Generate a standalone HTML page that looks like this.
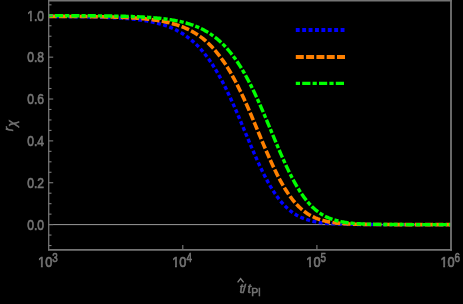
<!DOCTYPE html>
<html><head><meta charset="utf-8"><title>chart</title>
<style>
html,body{margin:0;padding:0;background:#000;}
body{width:463px;height:304px;overflow:hidden;position:relative;font-family:"Liberation Sans",sans-serif;}
svg text{font-family:"Liberation Sans",sans-serif;}
</style></head><body>
<svg width="463" height="304" viewBox="0 0 463 304" style="position:absolute;left:0;top:0;will-change:transform">
<rect x="0" y="0" width="463" height="304" fill="#000"/>
<line x1="48.7" y1="224.6" x2="451.0" y2="224.6" stroke="#9a9a9a" stroke-width="1"/>
<path d="M48.70,16.55 L49.71,16.56 L50.72,16.56 L51.72,16.56 L52.73,16.57 L53.74,16.57 L54.75,16.58 L55.76,16.58 L56.77,16.59 L57.77,16.60 L58.78,16.60 L59.79,16.61 L60.80,16.61 L61.81,16.62 L62.82,16.63 L63.82,16.63 L64.83,16.64 L65.84,16.65 L66.85,16.66 L67.86,16.66 L68.87,16.67 L69.87,16.68 L70.88,16.69 L71.89,16.70 L72.90,16.71 L73.91,16.72 L74.92,16.73 L75.92,16.74 L76.93,16.76 L77.94,16.77 L78.95,16.78 L79.96,16.79 L80.96,16.81 L81.97,16.82 L82.98,16.84 L83.99,16.85 L85.00,16.87 L86.01,16.88 L87.01,16.90 L88.02,16.92 L89.03,16.94 L90.04,16.96 L91.05,16.98 L92.06,17.00 L93.06,17.02 L94.07,17.04 L95.08,17.07 L96.09,17.09 L97.10,17.12 L98.11,17.14 L99.11,17.17 L100.12,17.20 L101.13,17.23 L102.14,17.26 L103.15,17.29 L104.15,17.33 L105.16,17.36 L106.17,17.40 L107.18,17.43 L108.19,17.47 L109.20,17.51 L110.20,17.56 L111.21,17.60 L112.22,17.65 L113.23,17.69 L114.24,17.74 L115.25,17.79 L116.25,17.85 L117.26,17.90 L118.27,17.96 L119.28,18.02 L120.29,18.08 L121.30,18.15 L122.30,18.21 L123.31,18.28 L124.32,18.36 L125.33,18.43 L126.34,18.51 L127.35,18.59 L128.35,18.68 L129.36,18.76 L130.37,18.85 L131.38,18.95 L132.39,19.05 L133.39,19.15 L134.40,19.26 L135.41,19.37 L136.42,19.48 L137.43,19.60 L138.44,19.73 L139.44,19.86 L140.45,19.99 L141.46,20.13 L142.47,20.27 L143.48,20.42 L144.49,20.58 L145.49,20.74 L146.50,20.91 L147.51,21.09 L148.52,21.27 L149.53,21.46 L150.54,21.65 L151.54,21.86 L152.55,22.07 L153.56,22.29 L154.57,22.51 L155.58,22.75 L156.58,22.99 L157.59,23.25 L158.60,23.51 L159.61,23.79 L160.62,24.07 L161.63,24.37 L162.63,24.67 L163.64,24.99 L164.65,25.32 L165.66,25.66 L166.67,26.02 L167.68,26.38 L168.68,26.77 L169.69,27.16 L170.70,27.57 L171.71,28.00 L172.72,28.44 L173.73,28.89 L174.73,29.37 L175.74,29.85 L176.75,30.36 L177.76,30.89 L178.77,31.43 L179.78,32.00 L180.78,32.58 L181.79,33.18 L182.80,33.81 L183.81,34.45 L184.82,35.12 L185.82,35.81 L186.83,36.53 L187.84,37.27 L188.85,38.03 L189.86,38.82 L190.87,39.64 L191.87,40.48 L192.88,41.35 L193.89,42.25 L194.90,43.18 L195.91,44.14 L196.92,45.13 L197.92,46.14 L198.93,47.19 L199.94,48.28 L200.95,49.39 L201.96,50.54 L202.97,51.72 L203.97,52.93 L204.98,54.19 L205.99,55.47 L207.00,56.79 L208.01,58.15 L209.02,59.55 L210.02,60.98 L211.03,62.45 L212.04,63.96 L213.05,65.50 L214.06,67.09 L215.06,68.71 L216.07,70.37 L217.08,72.07 L218.09,73.81 L219.10,75.58 L220.11,77.39 L221.11,79.24 L222.12,81.13 L223.13,83.05 L224.14,85.01 L225.15,87.01 L226.16,89.04 L227.16,91.10 L228.17,93.20 L229.18,95.33 L230.19,97.48 L231.20,99.67 L232.21,101.89 L233.21,104.13 L234.22,106.40 L235.23,108.69 L236.24,111.00 L237.25,113.33 L238.25,115.68 L239.26,118.04 L240.27,120.42 L241.28,122.81 L242.29,125.21 L243.30,127.62 L244.30,130.03 L245.31,132.44 L246.32,134.85 L247.33,137.26 L248.34,139.66 L249.35,142.06 L250.35,144.45 L251.36,146.82 L252.37,149.18 L253.38,151.52 L254.39,153.83 L255.40,156.13 L256.40,158.40 L257.41,160.65 L258.42,162.86 L259.43,165.05 L260.44,167.20 L261.45,169.31 L262.45,171.39 L263.46,173.43 L264.47,175.42 L265.48,177.38 L266.49,179.29 L267.49,181.16 L268.50,182.98 L269.51,184.76 L270.52,186.49 L271.53,188.17 L272.54,189.80 L273.54,191.39 L274.55,192.92 L275.56,194.41 L276.57,195.85 L277.58,197.24 L278.59,198.58 L279.59,199.87 L280.60,201.11 L281.61,202.31 L282.62,203.46 L283.63,204.56 L284.64,205.62 L285.64,206.63 L286.65,207.61 L287.66,208.53 L288.67,209.42 L289.68,210.27 L290.68,211.07 L291.69,211.84 L292.70,212.58 L293.71,213.27 L294.72,213.93 L295.73,214.56 L296.73,215.16 L297.74,215.73 L298.75,216.26 L299.76,216.77 L300.77,217.25 L301.78,217.70 L302.78,218.13 L303.79,218.54 L304.80,218.92 L305.81,219.28 L306.82,219.62 L307.83,219.94 L308.83,220.24 L309.84,220.52 L310.85,220.79 L311.86,221.04 L312.87,221.27 L313.88,221.49 L314.88,221.70 L315.89,221.89 L316.90,222.07 L317.91,222.24 L318.92,222.40 L319.92,222.55 L320.93,222.69 L321.94,222.82 L322.95,222.94 L323.96,223.06 L324.97,223.17 L325.97,223.26 L326.98,223.36 L327.99,223.44 L329.00,223.52 L330.01,223.60 L331.02,223.67 L332.02,223.74 L333.03,223.80 L334.04,223.85 L335.05,223.91 L336.06,223.96 L337.07,224.00 L338.07,224.04 L339.08,224.08 L340.09,224.12 L341.10,224.16 L342.11,224.19 L343.12,224.22 L344.12,224.24 L345.13,224.27 L346.14,224.29 L347.15,224.32 L348.16,224.34 L349.16,224.36 L350.17,224.37 L351.18,224.39 L352.19,224.41 L353.20,224.42 L354.21,224.43 L355.21,224.45 L356.22,224.46 L357.23,224.47 L358.24,224.48 L359.25,224.49 L360.26,224.49 L361.26,224.50 L362.27,224.51 L363.28,224.52 L364.29,224.52 L365.30,224.53 L366.31,224.53 L367.31,224.54 L368.32,224.54 L369.33,224.55 L370.34,224.55 L371.35,224.55 L372.35,224.56 L373.36,224.56 L374.37,224.56 L375.38,224.57 L376.39,224.57 L377.40,224.57 L378.40,224.57 L379.41,224.58 L380.42,224.58 L381.43,224.58 L382.44,224.58 L383.45,224.58 L384.45,224.58 L385.46,224.58 L386.47,224.59 L387.48,224.59 L388.49,224.59 L389.50,224.59 L390.50,224.59 L391.51,224.59 L392.52,224.59 L393.53,224.59 L394.54,224.59 L395.55,224.59 L396.55,224.59 L397.56,224.59 L398.57,224.59 L399.58,224.59 L400.59,224.60 L401.59,224.60 L402.60,224.60 L403.61,224.60 L404.62,224.60 L405.63,224.60 L406.64,224.60 L407.64,224.60 L408.65,224.60 L409.66,224.60 L410.67,224.60 L411.68,224.60 L412.69,224.60 L413.69,224.60 L414.70,224.60 L415.71,224.60 L416.72,224.60 L417.73,224.60 L418.74,224.60 L419.74,224.60 L420.75,224.60 L421.76,224.60 L422.77,224.60 L423.78,224.60 L424.78,224.60 L425.79,224.60 L426.80,224.60 L427.81,224.60 L428.82,224.60 L429.83,224.60 L430.83,224.60 L431.84,224.60 L432.85,224.60 L433.86,224.60 L434.87,224.60 L435.88,224.60 L436.88,224.60 L437.89,224.60 L438.90,224.60 L439.91,224.60 L440.92,224.60 L441.93,224.60 L442.93,224.60 L443.94,224.60 L444.95,224.60 L445.96,224.60 L446.97,224.60 L447.98,224.60 L448.98,224.60 L449.99,224.60 L451.00,224.60" fill="none" stroke="#0000ff" stroke-width="3.4" stroke-dasharray="3.9 2.5"/>
<path d="M48.70,16.36 L49.71,16.36 L50.72,16.37 L51.72,16.37 L52.73,16.37 L53.74,16.37 L54.75,16.38 L55.76,16.38 L56.77,16.38 L57.77,16.39 L58.78,16.39 L59.79,16.39 L60.80,16.40 L61.81,16.40 L62.82,16.41 L63.82,16.41 L64.83,16.42 L65.84,16.42 L66.85,16.42 L67.86,16.43 L68.87,16.43 L69.87,16.44 L70.88,16.45 L71.89,16.45 L72.90,16.46 L73.91,16.46 L74.92,16.47 L75.92,16.48 L76.93,16.48 L77.94,16.49 L78.95,16.50 L79.96,16.51 L80.96,16.51 L81.97,16.52 L82.98,16.53 L83.99,16.54 L85.00,16.55 L86.01,16.56 L87.01,16.57 L88.02,16.58 L89.03,16.59 L90.04,16.61 L91.05,16.62 L92.06,16.63 L93.06,16.64 L94.07,16.66 L95.08,16.67 L96.09,16.69 L97.10,16.70 L98.11,16.72 L99.11,16.73 L100.12,16.75 L101.13,16.77 L102.14,16.79 L103.15,16.81 L104.15,16.83 L105.16,16.85 L106.17,16.87 L107.18,16.89 L108.19,16.92 L109.20,16.94 L110.20,16.97 L111.21,16.99 L112.22,17.02 L113.23,17.05 L114.24,17.08 L115.25,17.11 L116.25,17.14 L117.26,17.18 L118.27,17.21 L119.28,17.25 L120.29,17.28 L121.30,17.32 L122.30,17.36 L123.31,17.41 L124.32,17.45 L125.33,17.50 L126.34,17.54 L127.35,17.59 L128.35,17.64 L129.36,17.70 L130.37,17.75 L131.38,17.81 L132.39,17.87 L133.39,17.93 L134.40,18.00 L135.41,18.06 L136.42,18.13 L137.43,18.21 L138.44,18.28 L139.44,18.36 L140.45,18.44 L141.46,18.53 L142.47,18.62 L143.48,18.71 L144.49,18.80 L145.49,18.90 L146.50,19.00 L147.51,19.11 L148.52,19.22 L149.53,19.34 L150.54,19.46 L151.54,19.58 L152.55,19.71 L153.56,19.84 L154.57,19.98 L155.58,20.13 L156.58,20.28 L157.59,20.43 L158.60,20.60 L159.61,20.76 L160.62,20.94 L161.63,21.12 L162.63,21.31 L163.64,21.51 L164.65,21.71 L165.66,21.92 L166.67,22.14 L167.68,22.37 L168.68,22.60 L169.69,22.85 L170.70,23.10 L171.71,23.37 L172.72,23.64 L173.73,23.93 L174.73,24.22 L175.74,24.53 L176.75,24.85 L177.76,25.18 L178.77,25.52 L179.78,25.87 L180.78,26.24 L181.79,26.62 L182.80,27.02 L183.81,27.43 L184.82,27.85 L185.82,28.30 L186.83,28.75 L187.84,29.23 L188.85,29.72 L189.86,30.22 L190.87,30.75 L191.87,31.29 L192.88,31.86 L193.89,32.44 L194.90,33.05 L195.91,33.67 L196.92,34.32 L197.92,34.99 L198.93,35.68 L199.94,36.40 L200.95,37.14 L201.96,37.90 L202.97,38.69 L203.97,39.51 L204.98,40.35 L205.99,41.22 L207.00,42.12 L208.01,43.05 L209.02,44.01 L210.02,45.00 L211.03,46.01 L212.04,47.06 L213.05,48.15 L214.06,49.26 L215.06,50.41 L216.07,51.59 L217.08,52.81 L218.09,54.06 L219.10,55.35 L220.11,56.67 L221.11,58.03 L222.12,59.43 L223.13,60.86 L224.14,62.33 L225.15,63.84 L226.16,65.38 L227.16,66.97 L228.17,68.59 L229.18,70.25 L230.19,71.95 L231.20,73.69 L232.21,75.47 L233.21,77.28 L234.22,79.13 L235.23,81.02 L236.24,82.94 L237.25,84.90 L238.25,86.90 L239.26,88.93 L240.27,90.99 L241.28,93.09 L242.29,95.22 L243.30,97.38 L244.30,99.57 L245.31,101.78 L246.32,104.02 L247.33,106.29 L248.34,108.58 L249.35,110.90 L250.35,113.23 L251.36,115.58 L252.37,117.94 L253.38,120.32 L254.39,122.71 L255.40,125.11 L256.40,127.52 L257.41,129.93 L258.42,132.34 L259.43,134.76 L260.44,137.17 L261.45,139.57 L262.45,141.97 L263.46,144.36 L264.47,146.73 L265.48,149.09 L266.49,151.43 L267.49,153.75 L268.50,156.05 L269.51,158.32 L270.52,160.57 L271.53,162.78 L272.54,164.97 L273.54,167.12 L274.55,169.24 L275.56,171.31 L276.57,173.35 L277.58,175.35 L278.59,177.31 L279.59,179.23 L280.60,181.10 L281.61,182.92 L282.62,184.70 L283.63,186.43 L284.64,188.11 L285.64,189.75 L286.65,191.33 L287.66,192.87 L288.67,194.36 L289.68,195.80 L290.68,197.19 L291.69,198.53 L292.70,199.82 L293.71,201.07 L294.72,202.27 L295.73,203.42 L296.73,204.52 L297.74,205.58 L298.75,206.60 L299.76,207.57 L300.77,208.50 L301.78,209.39 L302.78,210.24 L303.79,211.05 L304.80,211.82 L305.81,212.55 L306.82,213.25 L307.83,213.91 L308.83,214.54 L309.84,215.14 L310.85,215.71 L311.86,216.24 L312.87,216.75 L313.88,217.23 L314.88,217.69 L315.89,218.12 L316.90,218.52 L317.91,218.91 L318.92,219.27 L319.92,219.61 L320.93,219.93 L321.94,220.23 L322.95,220.51 L323.96,220.78 L324.97,221.03 L325.97,221.26 L326.98,221.49 L327.99,221.69 L329.00,221.89 L330.01,222.07 L331.02,222.24 L332.02,222.40 L333.03,222.55 L334.04,222.69 L335.05,222.82 L336.06,222.94 L337.07,223.05 L338.07,223.16 L339.08,223.26 L340.09,223.35 L341.10,223.44 L342.11,223.52 L343.12,223.60 L344.12,223.67 L345.13,223.73 L346.14,223.79 L347.15,223.85 L348.16,223.90 L349.16,223.95 L350.17,224.00 L351.18,224.04 L352.19,224.08 L353.20,224.12 L354.21,224.15 L355.21,224.19 L356.22,224.22 L357.23,224.24 L358.24,224.27 L359.25,224.29 L360.26,224.32 L361.26,224.34 L362.27,224.36 L363.28,224.37 L364.29,224.39 L365.30,224.41 L366.31,224.42 L367.31,224.43 L368.32,224.44 L369.33,224.46 L370.34,224.47 L371.35,224.48 L372.35,224.49 L373.36,224.49 L374.37,224.50 L375.38,224.51 L376.39,224.52 L377.40,224.52 L378.40,224.53 L379.41,224.53 L380.42,224.54 L381.43,224.54 L382.44,224.55 L383.45,224.55 L384.45,224.55 L385.46,224.56 L386.47,224.56 L387.48,224.56 L388.49,224.57 L389.50,224.57 L390.50,224.57 L391.51,224.57 L392.52,224.58 L393.53,224.58 L394.54,224.58 L395.55,224.58 L396.55,224.58 L397.56,224.58 L398.57,224.58 L399.58,224.59 L400.59,224.59 L401.59,224.59 L402.60,224.59 L403.61,224.59 L404.62,224.59 L405.63,224.59 L406.64,224.59 L407.64,224.59 L408.65,224.59 L409.66,224.59 L410.67,224.59 L411.68,224.59 L412.69,224.59 L413.69,224.60 L414.70,224.60 L415.71,224.60 L416.72,224.60 L417.73,224.60 L418.74,224.60 L419.74,224.60 L420.75,224.60 L421.76,224.60 L422.77,224.60 L423.78,224.60 L424.78,224.60 L425.79,224.60 L426.80,224.60 L427.81,224.60 L428.82,224.60 L429.83,224.60 L430.83,224.60 L431.84,224.60 L432.85,224.60 L433.86,224.60 L434.87,224.60 L435.88,224.60 L436.88,224.60 L437.89,224.60 L438.90,224.60 L439.91,224.60 L440.92,224.60 L441.93,224.60 L442.93,224.60 L443.94,224.60 L444.95,224.60 L445.96,224.60 L446.97,224.60 L447.98,224.60 L448.98,224.60 L449.99,224.60 L451.00,224.60" fill="none" stroke="#ff8000" stroke-width="3.6" stroke-dasharray="8 2.3"/>
<path d="M48.70,15.64 L49.71,15.64 L50.72,15.64 L51.72,15.64 L52.73,15.64 L53.74,15.65 L54.75,15.65 L55.76,15.65 L56.77,15.65 L57.77,15.65 L58.78,15.65 L59.79,15.66 L60.80,15.66 L61.81,15.66 L62.82,15.66 L63.82,15.67 L64.83,15.67 L65.84,15.67 L66.85,15.68 L67.86,15.68 L68.87,15.68 L69.87,15.68 L70.88,15.69 L71.89,15.69 L72.90,15.69 L73.91,15.70 L74.92,15.70 L75.92,15.71 L76.93,15.71 L77.94,15.72 L78.95,15.72 L79.96,15.72 L80.96,15.73 L81.97,15.73 L82.98,15.74 L83.99,15.75 L85.00,15.75 L86.01,15.76 L87.01,15.76 L88.02,15.77 L89.03,15.78 L90.04,15.78 L91.05,15.79 L92.06,15.80 L93.06,15.81 L94.07,15.82 L95.08,15.82 L96.09,15.83 L97.10,15.84 L98.11,15.85 L99.11,15.86 L100.12,15.87 L101.13,15.88 L102.14,15.89 L103.15,15.91 L104.15,15.92 L105.16,15.93 L106.17,15.94 L107.18,15.96 L108.19,15.97 L109.20,15.99 L110.20,16.00 L111.21,16.02 L112.22,16.04 L113.23,16.05 L114.24,16.07 L115.25,16.09 L116.25,16.11 L117.26,16.13 L118.27,16.15 L119.28,16.17 L120.29,16.20 L121.30,16.22 L122.30,16.24 L123.31,16.27 L124.32,16.30 L125.33,16.32 L126.34,16.35 L127.35,16.38 L128.35,16.41 L129.36,16.45 L130.37,16.48 L131.38,16.51 L132.39,16.55 L133.39,16.59 L134.40,16.63 L135.41,16.67 L136.42,16.71 L137.43,16.75 L138.44,16.80 L139.44,16.85 L140.45,16.90 L141.46,16.95 L142.47,17.00 L143.48,17.06 L144.49,17.12 L145.49,17.18 L146.50,17.24 L147.51,17.30 L148.52,17.37 L149.53,17.44 L150.54,17.51 L151.54,17.59 L152.55,17.67 L153.56,17.75 L154.57,17.83 L155.58,17.92 L156.58,18.02 L157.59,18.11 L158.60,18.21 L159.61,18.31 L160.62,18.42 L161.63,18.53 L162.63,18.65 L163.64,18.77 L164.65,18.89 L165.66,19.02 L166.67,19.16 L167.68,19.30 L168.68,19.44 L169.69,19.59 L170.70,19.75 L171.71,19.91 L172.72,20.08 L173.73,20.26 L174.73,20.44 L175.74,20.63 L176.75,20.82 L177.76,21.03 L178.77,21.24 L179.78,21.46 L180.78,21.69 L181.79,21.93 L182.80,22.17 L183.81,22.43 L184.82,22.69 L185.82,22.97 L186.83,23.25 L187.84,23.55 L188.85,23.86 L189.86,24.18 L190.87,24.51 L191.87,24.85 L192.88,25.21 L193.89,25.58 L194.90,25.96 L195.91,26.35 L196.92,26.77 L197.92,27.19 L198.93,27.63 L199.94,28.09 L200.95,28.57 L201.96,29.06 L202.97,29.57 L203.97,30.09 L204.98,30.64 L205.99,31.21 L207.00,31.79 L208.01,32.40 L209.02,33.02 L210.02,33.67 L211.03,34.34 L212.04,35.04 L213.05,35.76 L214.06,36.50 L215.06,37.27 L216.07,38.06 L217.08,38.88 L218.09,39.72 L219.10,40.60 L220.11,41.50 L221.11,42.43 L222.12,43.39 L223.13,44.38 L224.14,45.40 L225.15,46.45 L226.16,47.54 L227.16,48.65 L228.17,49.81 L229.18,50.99 L230.19,52.21 L231.20,53.46 L232.21,54.75 L233.21,56.08 L234.22,57.44 L235.23,58.84 L236.24,60.28 L237.25,61.75 L238.25,63.26 L239.26,64.81 L240.27,66.40 L241.28,68.02 L242.29,69.69 L243.30,71.39 L244.30,73.13 L245.31,74.91 L246.32,76.72 L247.33,78.58 L248.34,80.47 L249.35,82.40 L250.35,84.36 L251.36,86.36 L252.37,88.39 L253.38,90.46 L254.39,92.56 L255.40,94.69 L256.40,96.85 L257.41,99.05 L258.42,101.27 L259.43,103.51 L260.44,105.78 L261.45,108.08 L262.45,110.39 L263.46,112.73 L264.47,115.08 L265.48,117.45 L266.49,119.84 L267.49,122.23 L268.50,124.64 L269.51,127.05 L270.52,129.46 L271.53,131.88 L272.54,134.30 L273.54,136.71 L274.55,139.12 L275.56,141.53 L276.57,143.92 L277.58,146.30 L278.59,148.66 L279.59,151.01 L280.60,153.34 L281.61,155.64 L282.62,157.92 L283.63,160.17 L284.64,162.40 L285.64,164.59 L286.65,166.75 L287.66,168.87 L288.67,170.96 L289.68,173.01 L290.68,175.01 L291.69,176.98 L292.70,178.90 L293.71,180.78 L294.72,182.61 L295.73,184.40 L296.73,186.14 L297.74,187.83 L298.75,189.48 L299.76,191.07 L300.77,192.62 L301.78,194.11 L302.78,195.56 L303.79,196.96 L304.80,198.31 L305.81,199.61 L306.82,200.86 L307.83,202.07 L308.83,203.23 L309.84,204.34 L310.85,205.41 L311.86,206.43 L312.87,207.41 L313.88,208.35 L314.88,209.24 L315.89,210.10 L316.90,210.91 L317.91,211.69 L318.92,212.43 L319.92,213.14 L320.93,213.80 L321.94,214.44 L322.95,215.04 L323.96,215.61 L324.97,216.16 L325.97,216.67 L326.98,217.16 L327.99,217.61 L329.00,218.05 L330.01,218.46 L331.02,218.84 L332.02,219.21 L333.03,219.55 L334.04,219.88 L335.05,220.18 L336.06,220.47 L337.07,220.74 L338.07,220.99 L339.08,221.23 L340.09,221.45 L341.10,221.66 L342.11,221.85 L343.12,222.04 L344.12,222.21 L345.13,222.37 L346.14,222.52 L347.15,222.66 L348.16,222.80 L349.16,222.92 L350.17,223.04 L351.18,223.14 L352.19,223.25 L353.20,223.34 L354.21,223.43 L355.21,223.51 L356.22,223.59 L357.23,223.66 L358.24,223.72 L359.25,223.79 L360.26,223.84 L361.26,223.90 L362.27,223.95 L363.28,223.99 L364.29,224.04 L365.30,224.08 L366.31,224.11 L367.31,224.15 L368.32,224.18 L369.33,224.21 L370.34,224.24 L371.35,224.27 L372.35,224.29 L373.36,224.31 L374.37,224.33 L375.38,224.35 L376.39,224.37 L377.40,224.39 L378.40,224.40 L379.41,224.42 L380.42,224.43 L381.43,224.44 L382.44,224.45 L383.45,224.47 L384.45,224.48 L385.46,224.48 L386.47,224.49 L387.48,224.50 L388.49,224.51 L389.50,224.51 L390.50,224.52 L391.51,224.53 L392.52,224.53 L393.53,224.54 L394.54,224.54 L395.55,224.55 L396.55,224.55 L397.56,224.55 L398.57,224.56 L399.58,224.56 L400.59,224.56 L401.59,224.57 L402.60,224.57 L403.61,224.57 L404.62,224.57 L405.63,224.58 L406.64,224.58 L407.64,224.58 L408.65,224.58 L409.66,224.58 L410.67,224.58 L411.68,224.58 L412.69,224.59 L413.69,224.59 L414.70,224.59 L415.71,224.59 L416.72,224.59 L417.73,224.59 L418.74,224.59 L419.74,224.59 L420.75,224.59 L421.76,224.59 L422.77,224.59 L423.78,224.59 L424.78,224.59 L425.79,224.59 L426.80,224.60 L427.81,224.60 L428.82,224.60 L429.83,224.60 L430.83,224.60 L431.84,224.60 L432.85,224.60 L433.86,224.60 L434.87,224.60 L435.88,224.60 L436.88,224.60 L437.89,224.60 L438.90,224.60 L439.91,224.60 L440.92,224.60 L441.93,224.60 L442.93,224.60 L443.94,224.60 L444.95,224.60 L445.96,224.60 L446.97,224.60 L447.98,224.60 L448.98,224.60 L449.99,224.60 L451.00,224.60" fill="none" stroke="#00ff00" stroke-width="3.4" stroke-dasharray="4.2 2 8.2 2"/>
<line x1="48.1" y1="0.8" x2="451.9" y2="0.8" stroke="#747474" stroke-width="1.6"/>
<line x1="451.0" y1="0" x2="451.0" y2="250.70000000000002" stroke="#747474" stroke-width="1.8"/>
<line x1="48.1" y1="249.8" x2="451.9" y2="249.8" stroke="#747474" stroke-width="1.7"/>
<line x1="48.7" y1="0" x2="48.7" y2="250.60000000000002" stroke="#747474" stroke-width="1.3"/>
<line x1="48.7" y1="245.53" x2="51.5" y2="245.53" stroke="#7c7c7c" stroke-width="1.1"/>
<line x1="48.7" y1="235.06" x2="51.5" y2="235.06" stroke="#7c7c7c" stroke-width="1.1"/>
<line x1="48.7" y1="224.60" x2="53.2" y2="224.60" stroke="#7c7c7c" stroke-width="1.1"/>
<text transform="translate(44.00,229.80) scale(0.91,1.12)" x="0" y="0" text-anchor="end" font-size="13.3" fill="#747474" stroke="#747474" stroke-width="0.6">0.0</text>
<line x1="48.7" y1="214.13" x2="51.5" y2="214.13" stroke="#7c7c7c" stroke-width="1.1"/>
<line x1="48.7" y1="203.67" x2="51.5" y2="203.67" stroke="#7c7c7c" stroke-width="1.1"/>
<line x1="48.7" y1="193.20" x2="51.5" y2="193.20" stroke="#7c7c7c" stroke-width="1.1"/>
<line x1="48.7" y1="182.74" x2="53.2" y2="182.74" stroke="#7c7c7c" stroke-width="1.1"/>
<text transform="translate(44.00,187.94) scale(0.91,1.12)" x="0" y="0" text-anchor="end" font-size="13.3" fill="#747474" stroke="#747474" stroke-width="0.6">0.2</text>
<line x1="48.7" y1="172.27" x2="51.5" y2="172.27" stroke="#7c7c7c" stroke-width="1.1"/>
<line x1="48.7" y1="161.81" x2="51.5" y2="161.81" stroke="#7c7c7c" stroke-width="1.1"/>
<line x1="48.7" y1="151.34" x2="51.5" y2="151.34" stroke="#7c7c7c" stroke-width="1.1"/>
<line x1="48.7" y1="140.88" x2="53.2" y2="140.88" stroke="#7c7c7c" stroke-width="1.1"/>
<text transform="translate(44.00,146.08) scale(0.91,1.12)" x="0" y="0" text-anchor="end" font-size="13.3" fill="#747474" stroke="#747474" stroke-width="0.6">0.4</text>
<line x1="48.7" y1="130.41" x2="51.5" y2="130.41" stroke="#7c7c7c" stroke-width="1.1"/>
<line x1="48.7" y1="119.95" x2="51.5" y2="119.95" stroke="#7c7c7c" stroke-width="1.1"/>
<line x1="48.7" y1="109.48" x2="51.5" y2="109.48" stroke="#7c7c7c" stroke-width="1.1"/>
<line x1="48.7" y1="99.02" x2="53.2" y2="99.02" stroke="#7c7c7c" stroke-width="1.1"/>
<text transform="translate(44.00,104.22) scale(0.91,1.12)" x="0" y="0" text-anchor="end" font-size="13.3" fill="#747474" stroke="#747474" stroke-width="0.6">0.6</text>
<line x1="48.7" y1="88.55" x2="51.5" y2="88.55" stroke="#7c7c7c" stroke-width="1.1"/>
<line x1="48.7" y1="78.09" x2="51.5" y2="78.09" stroke="#7c7c7c" stroke-width="1.1"/>
<line x1="48.7" y1="67.62" x2="51.5" y2="67.62" stroke="#7c7c7c" stroke-width="1.1"/>
<line x1="48.7" y1="57.16" x2="53.2" y2="57.16" stroke="#7c7c7c" stroke-width="1.1"/>
<text transform="translate(44.00,62.36) scale(0.91,1.12)" x="0" y="0" text-anchor="end" font-size="13.3" fill="#747474" stroke="#747474" stroke-width="0.6">0.8</text>
<line x1="48.7" y1="46.69" x2="51.5" y2="46.69" stroke="#7c7c7c" stroke-width="1.1"/>
<line x1="48.7" y1="36.23" x2="51.5" y2="36.23" stroke="#7c7c7c" stroke-width="1.1"/>
<line x1="48.7" y1="25.76" x2="51.5" y2="25.76" stroke="#7c7c7c" stroke-width="1.1"/>
<line x1="48.7" y1="15.30" x2="53.2" y2="15.30" stroke="#7c7c7c" stroke-width="1.1"/>
<text transform="translate(44.00,20.50) scale(0.91,1.12)" x="0" y="0" text-anchor="end" font-size="13.3" fill="#747474" stroke="#747474" stroke-width="0.6">1.0</text>
<line x1="48.7" y1="4.83" x2="51.5" y2="4.83" stroke="#7c7c7c" stroke-width="1.1"/>
<text transform="translate(38.10,266.5) scale(0.96,1.1)" x="0" y="0" font-size="13.3" fill="#747474" stroke="#747474" stroke-width="0.6">10</text>
<text transform="translate(52.30,262.0) scale(0.8,1.1)" x="0" y="0" font-size="12.4" fill="#747474" stroke="#747474" stroke-width="0.6">3</text>
<rect x="37.40" y="264.8" width="3.5" height="3.5" fill="#000"/><rect x="42.80" y="264.8" width="2.2" height="3.5" fill="#000"/>
<line x1="182.80" y1="249.8" x2="182.80" y2="245.10000000000002" stroke="#7c7c7c" stroke-width="1.1"/>
<text transform="translate(172.20,266.5) scale(0.96,1.1)" x="0" y="0" font-size="13.3" fill="#747474" stroke="#747474" stroke-width="0.6">10</text>
<text transform="translate(186.40,262.0) scale(0.8,1.1)" x="0" y="0" font-size="12.4" fill="#747474" stroke="#747474" stroke-width="0.6">4</text>
<rect x="171.50" y="264.8" width="3.5" height="3.5" fill="#000"/><rect x="176.90" y="264.8" width="2.2" height="3.5" fill="#000"/>
<line x1="316.90" y1="249.8" x2="316.90" y2="245.10000000000002" stroke="#7c7c7c" stroke-width="1.1"/>
<text transform="translate(306.30,266.5) scale(0.96,1.1)" x="0" y="0" font-size="13.3" fill="#747474" stroke="#747474" stroke-width="0.6">10</text>
<text transform="translate(320.50,262.0) scale(0.8,1.1)" x="0" y="0" font-size="12.4" fill="#747474" stroke="#747474" stroke-width="0.6">5</text>
<rect x="305.60" y="264.8" width="3.5" height="3.5" fill="#000"/><rect x="311.00" y="264.8" width="2.2" height="3.5" fill="#000"/>
<text transform="translate(440.40,266.5) scale(0.96,1.1)" x="0" y="0" font-size="13.3" fill="#747474" stroke="#747474" stroke-width="0.6">10</text>
<text transform="translate(454.60,262.0) scale(0.8,1.1)" x="0" y="0" font-size="12.4" fill="#747474" stroke="#747474" stroke-width="0.6">6</text>
<rect x="439.70" y="264.8" width="3.5" height="3.5" fill="#000"/><rect x="445.10" y="264.8" width="2.2" height="3.5" fill="#000"/>
<rect x="26.3" y="18.20" width="3.68" height="3.9" fill="#000"/><rect x="31.85" y="18.20" width="2.2" height="3.9" fill="#000"/>
<line x1="295.8" y1="29.9" x2="345.5" y2="29.9" stroke="#0000ff" stroke-width="4.0" stroke-dasharray="3.9 2.5"/>
<line x1="295.8" y1="56.9" x2="345.5" y2="56.9" stroke="#ff8000" stroke-width="4.0" stroke-dasharray="8 2.3"/>
<line x1="295.8" y1="83.4" x2="344.1" y2="83.4" stroke="#00ff00" stroke-width="3.2" stroke-dasharray="4.2 2.2 8.2 2.2"/>
<g transform="translate(12.6,131.2) rotate(-90)"><text x="0" y="0" font-size="13" font-style="italic" fill="#747474" stroke="#747474" stroke-width="0.5">r<tspan dy="3" font-size="12">χ</tspan></text></g>
<text y="293" font-size="13" font-style="italic" fill="#747474" stroke="#747474" stroke-width="0.5"><tspan x="239.4">t</tspan><tspan x="242.6" font-style="normal">/</tspan><tspan x="247.4">t</tspan><tspan x="251.3" dy="2.5" font-size="10.5" font-style="normal">Pl</tspan></text>
<path d="M237.6,282.4 L240.6,278.6 L243.6,282.4" fill="none" stroke="#808080" stroke-width="1.3"/>
</svg>
</body></html>
